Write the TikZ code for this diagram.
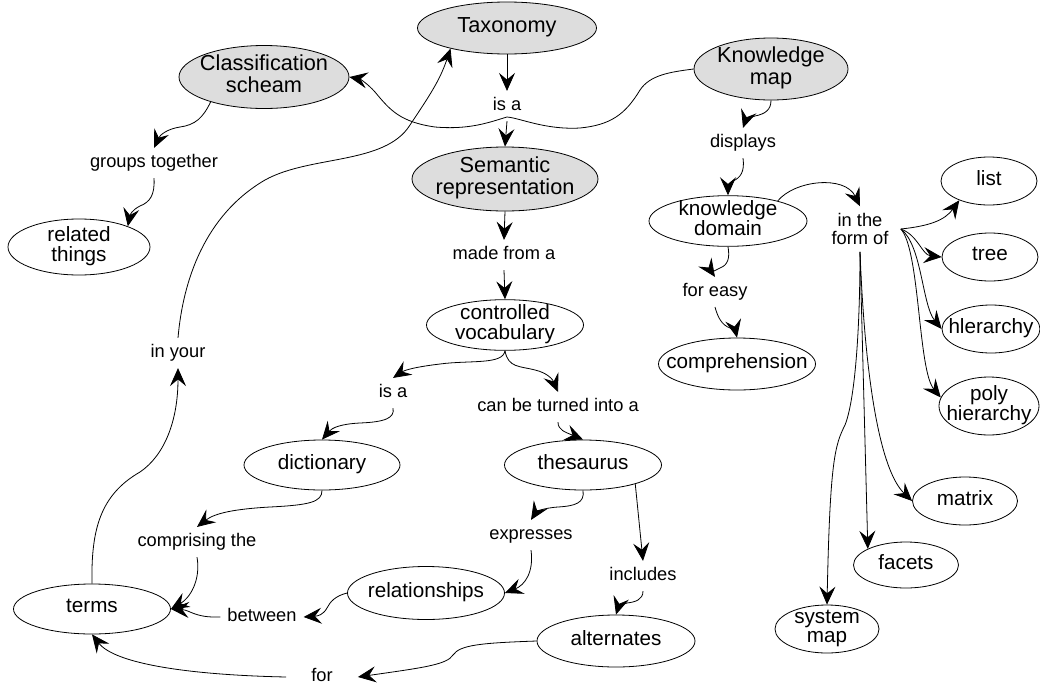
\documentclass[tikz,border=0pt]{standalone}
\usepackage{fontspec}
\setmainfont{Liberation Sans}
\usetikzlibrary{shapes.geometric,arrows.meta}
\definecolor{gfill}{RGB}{221,221,221}
\newcommand{\ctr}[1]{\makebox[0pt]{\begin{tabular}{@{}c@{}}#1\end{tabular}}}
\begin{document}
\begin{tikzpicture}[x=0.75pt,y=-0.75pt,line width=0.6pt,
  sz/.style 2 args={minimum width=#1*0.75pt, minimum height=#2*0.75pt},
  base/.style={ellipse, draw, inner xsep=0pt, inner ysep=-2pt},
  gnode/.style={base, fill=gfill, font=\fontsize{16.3}{16.5}\selectfont},
  wnode/.style={base, fill=white, font=\fontsize{15.5}{14}\selectfont},
  labbase/.style={inner xsep=5pt, inner ysep=5pt, font=\fontsize{13.7}{13.5}\selectfont},
  lab/.style={labbase, text height=9.5pt, text depth=2.5pt},
  conn/.style={-{Stealth[length=13.5pt,width=12pt,inset=5pt]}}]
\useasboundingbox (0,0) rectangle (1040,686);
% concept nodes
\node[gnode, sz={179}{52}] (tax) at (507,28) {\ctr{Taxonomy}};
\node[gnode, sz={170}{63}] (cls) at (264,77) {\ctr{Classification\\scheam}};
\node[gnode, sz={154}{62}] (km) at (771,69) {\ctr{Knowledge\\map}};
\node[gnode, sz={186}{64}] (sem) at (505,179) {\ctr{Semantic\\representation}};
\node[wnode, sz={142}{56}] (rel) at (79,247) {\ctr{related\\things}};
\node[wnode, sz={157}{50}] (cv) at (505,325) {\ctr{controlled\\vocabulary}};
\node[wnode, sz={156}{50}] (dict) at (322,465) {\ctr{dictionary}};
\node[wnode, sz={157}{50}] (thes) at (583,465) {\ctr{thesaurus}};
\node[wnode, sz={157}{53}] (relsh) at (426,593) {\ctr{relationships}};
\node[wnode, sz={158}{52}] (alt) at (616,641) {\ctr{alternates}};
\node[wnode, sz={157}{50}] (terms) at (92,609) {\ctr{terms}};
\node[wnode, sz={158}{50}] (kd) at (728,221) {\ctr{knowledge\\domain}};
\node[wnode, sz={157}{52}] (comp) at (737,364) {\ctr{comprehension}};
\node[wnode, sz={96}{48}] (list) at (989,181) {\ctr{list}};
\node[wnode, sz={96}{48}] (tree) at (990,257) {\ctr{tree}};
\node[wnode, sz={98}{48}] (hler) at (991,329) {\ctr{hlerarchy}};
\node[wnode, sz={100}{58}] (poly) at (989,406) {\ctr{poly\\hierarchy}};
\node[wnode, sz={105}{48}] (matrix) at (965,501) {\ctr{matrix}};
\node[wnode, sz={105}{46}] (facets) at (906,565) {\ctr{facets}};
\node[wnode, sz={104}{48}] (sysmap) at (827,629) {\ctr{system\\map}};
% linking phrases
\node[lab] (isa1) at (507,106) {is a};
\node[lab] (grp) at (154,163) {groups together};
\node[lab] (disp) at (743,143) {displays};
\node[lab] (made) at (504,255) {made from a};
\node[labbase, align=center, inner xsep=9pt] (inform) at (860,229) {in the\\form of};
\node[lab] (foreasy) at (715,292) {for easy};
\node[lab] (inyour) at (178,353) {in your};
\node[lab] (isa2) at (393,393) {is a};
\node[lab] (canbe) at (558,407) {can be turned into a};
\node[lab] (compthe) at (197,542) {comprising the};
\node[lab] (expr) at (531,535) {expresses};
\node[lab] (incl) at (643,576) {includes};
\node[lab] (betw) at (262,617) {between};
\node[lab, minimum width=71*0.75pt] (for) at (322,677) {for};
% connectors
\draw[conn] (tax.south) -- (isa1.north);
\draw[conn] (isa1.south) -- (sem.north);
\draw[conn] (sem.south) -- (made.north);
\draw[conn] (made.south) -- (cv.north);
\draw[conn] (cv.south) .. controls (503,365) and (470,360) .. (440,364) .. controls (415,367) and (405,370) .. (isa2.north);
\draw[conn] (isa2.south) .. controls (395,418) and (385,422) .. (360,423) .. controls (340,424) and (332,428) .. (dict.north);
\draw[conn] (cv.south) .. controls (508,368) and (520,366) .. (535,370) .. controls (548,373) and (553,380) .. (canbe.north);
\draw[conn] (canbe.south) .. controls (558,430) and (565,432) .. (thes.north);
\draw[conn] (dict.south) .. controls (322,502) and (310,505) .. (270,507) .. controls (235,509) and (215,513) .. (compthe.north);
\draw[conn] (compthe.south) .. controls (201,580) and (190,598) .. (terms.east);
\draw[conn] (relsh.west) .. controls (335,596) and (330,602) .. (327,608) .. controls (323,615) and (318,616) .. (betw.east);
\draw[conn] (betw.west) .. controls (195,618) and (190,610) .. (terms.east);
\draw[conn] (thes.south) .. controls (585,503) and (575,506) .. (558,507) .. controls (543,508) and (536,512) .. (expr.north);
\draw[conn] (expr.south) .. controls (534,572) and (525,585) .. (relsh.east);
\draw[conn] (thes.-20) -- (incl.north);
\draw[conn] (incl.south) .. controls (643,600) and (635,602) .. (627,603) .. controls (620,605) and (618,608) .. (alt.north);
\draw[conn] (alt.west) .. controls (480,643) and (460,645) .. (453,655) .. controls (447,665) and (420,668) .. (for.east);
\draw[conn] (for.west) .. controls (190,675) and (115,664) .. (terms.south);
\draw[conn] (terms.north) .. controls (91,530) and (100,495) .. (140,472) .. controls (165,455) and (178,420) .. (inyour.south);
\draw[conn] (inyour.north) .. controls (183,280) and (205,215) .. (265,180) .. controls (310,155) and (385,165) .. (410,125) .. controls (430,95) and (440,80) .. (tax.200);
\draw[conn] (km.west) .. controls (670,72) and (650,75) .. (640,90) .. controls (625,115) and (610,125) .. (580,128) .. controls (545,130) and (520,118) .. (507,117) .. controls (490,122) and (470,130) .. (435,127) .. controls (400,122) and (390,110) .. (375,92) .. controls (368,84) and (360,79) .. (cls.east);
\draw[conn] (cls.205) .. controls (203,118) and (195,125) .. (180,127) .. controls (167,129) and (160,135) .. (grp.north);
\draw[conn] (grp.south) .. controls (155,195) and (150,202) .. (140,206) .. controls (132,210) and (130,215) .. (rel.23);
\draw[conn] (km.south) .. controls (771,110) and (765,114) .. (755,116) .. controls (748,118) and (745,122) .. (disp.north);
\draw[conn] (disp.south) .. controls (745,172) and (740,178) .. (733,181) .. controls (729,183) and (728,187) .. (kd.north);
\draw[conn] (kd.south) .. controls (730,258) and (728,265) .. (720,268) .. controls (715,270) and (713,274) .. (foreasy.north);
\draw[conn] (foreasy.south) .. controls (718,318) and (722,325) .. (730,328) .. controls (734,330) and (736,333) .. (comp.north);
\draw[conn] (kd.22) .. controls (795,180) and (845,175) .. (inform.north);
\draw[conn] (inform.east) .. controls (930,226) and (945,220) .. (list.213);
\draw[conn] (inform.east) .. controls (918,235) and (922,255) .. (tree.west);
\draw[conn] (inform.east) .. controls (922,245) and (922,305) .. (hler.west);
\draw[conn] (inform.east) .. controls (920,250) and (918,370) .. (poly.170);
\draw[conn] (inform.south) .. controls (865,380) and (880,470) .. (matrix.west);
\draw[conn] (inform.south) -- (facets.157);
\draw[conn] (inform.south) .. controls (860,330) and (855,400) .. (845,425) .. controls (835,445) and (830,460) .. (sysmap.north);
\end{tikzpicture}
\end{document}
